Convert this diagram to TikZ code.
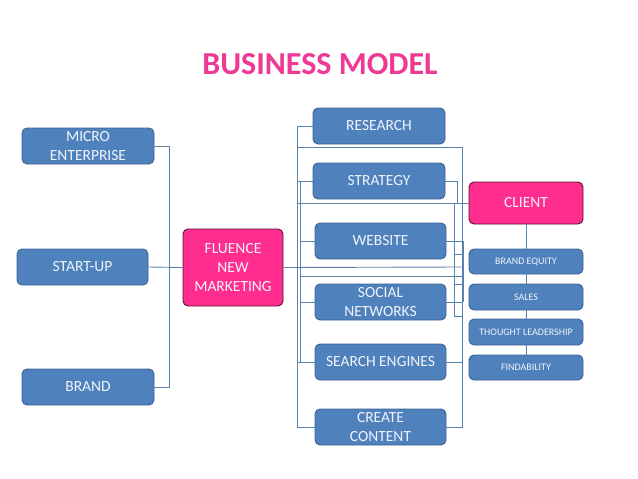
\documentclass[tikz,border=0pt]{standalone}
\usepackage{fontspec}
\setmainfont{Carlito}
\definecolor{boxblue}{HTML}{4F81BD}
\definecolor{boxedge}{HTML}{3A6496}
\definecolor{pinkfill}{HTML}{FF2D8E}
\definecolor{pinkedge}{HTML}{5A1030}
\definecolor{titlepink}{HTML}{EE3A94}
\definecolor{linecol}{HTML}{5A82AE}
\definecolor{boxtext}{HTML}{F0F4FA}
\begin{document}
\begin{tikzpicture}[x=1pt,y=-1pt,
  bluebox/.style={draw=boxedge,fill=boxblue,line width=0.9pt,rounded corners=5pt,
    text=boxtext,align=center,inner sep=0pt,font=\fontsize{15.5}{19}\selectfont},
  pinkbox/.style={bluebox,draw=pinkedge,fill=pinkfill},
  smallbox/.style={bluebox,font=\fontsize{10}{12}\selectfont},
  conn/.style={draw=linecol,line width=0.9pt}]
\useasboundingbox (0,0) rectangle (638,479);
\node[font=\fontsize{32}{36}\selectfont\bfseries,text=titlepink] (title) at (320,64) {BUSINESS MODEL};
% left
\node[bluebox,minimum width=132pt,minimum height=36pt] (micro) at (88,146) {MICRO\\ENTERPRISE};
\node[bluebox,minimum width=131pt,minimum height=36pt] (startup) at (82.5,267) {START-UP};
\node[bluebox,minimum width=132pt,minimum height=36pt] (brand) at (88,387) {BRAND};
\node[pinkbox,minimum width=100pt,minimum height=77pt] (fluence) at (233,267.5) {FLUENCE\\NEW\\MARKETING};
% middle column
\node[bluebox,minimum width=132pt,minimum height=36pt] (research) at (379,126) {RESEARCH};
\node[bluebox,minimum width=132pt,minimum height=36pt] (strategy) at (379,181) {STRATEGY};
\node[bluebox,minimum width=131pt,minimum height=36pt] (website) at (380.5,241) {WEBSITE};
\node[bluebox,minimum width=131pt,minimum height=36pt] (social) at (380.5,302) {SOCIAL\\NETWORKS};
\node[bluebox,minimum width=131pt,minimum height=36pt] (search) at (380.5,362) {SEARCH ENGINES};
\node[bluebox,minimum width=131pt,minimum height=36pt] (create) at (380.5,427) {CREATE\\CONTENT};
% right column
\node[pinkbox,minimum width=114pt,minimum height=42pt] (client) at (526,203) {CLIENT};
\node[smallbox,minimum width=114pt,minimum height=25pt] (equity) at (526,261.5) {BRAND EQUITY};
\node[smallbox,minimum width=114pt,minimum height=26pt] (sales) at (526,297) {SALES};
\node[smallbox,minimum width=114pt,minimum height=26pt] (thought) at (526,332) {THOUGHT LEADERSHIP};
\node[smallbox,minimum width=114pt,minimum height=25pt] (find) at (526,367.5) {FINDABILITY};
% left connectors
\coordinate (lb) at (169,146);
\draw[conn] (micro.east) -- (lb) -- (lb |- brand.east) -- (brand.east);
\draw[conn] (startup.east) -- (fluence.west);
% right chain
\draw[conn] (client.south) -- (equity.north);
\draw[conn] (equity.south) -- (sales.north);
\draw[conn] (sales.south) -- (thought.north);
\draw[conn] (thought.south) -- (find.north);
% middle bracket (left side)
\coordinate (mb) at (297,126);
\draw[conn] (research.west) -- (mb) -- (mb |- create.west) -- (create.west);
\draw[conn] (strategy.west) -- (strategy.west -| mb);
\draw[conn] (search.west) -- (search.west -| mb);
\coordinate (mb2) at (300,181);
\draw[conn] (mb2) -- (mb2 |- search.west);
\draw[conn] (website.west) -- (website.west -| mb2);
\draw[conn] (social.west) -- (social.west -| mb2);
% right bracket
\coordinate (rb) at (462,147);
\draw[conn] (mb |- rb) -- (rb) -- (rb |- create.east) -- (create.east);
\draw[conn] (search.east) -- (search.east -| rb);
% fluence line and parallel
\draw[conn] (fluence.east) -- (463,267);
\draw[conn] (300,276) -- (463,276);
% client line
\coordinate (cl) at (298,203);
\draw[conn] (cl) -- (client.west);
\coordinate (sb) at (457,181);
\draw[conn] (strategy.east) -- (sb) -- (sb |- client.west);
\coordinate (vb) at (454,203);
\draw[conn] (vb) -- (454,316) -- (463,316);
% website / social stubs
\coordinate (wb) at (463,241);
\draw[conn] (website.east) -- (wb) -- (463,302);
\draw[conn] (social.east) -- (463,302);
\draw[conn] (454,254) -- (463,254);
\draw[conn] (454,284) -- (463,284);
\end{tikzpicture}
\end{document}
